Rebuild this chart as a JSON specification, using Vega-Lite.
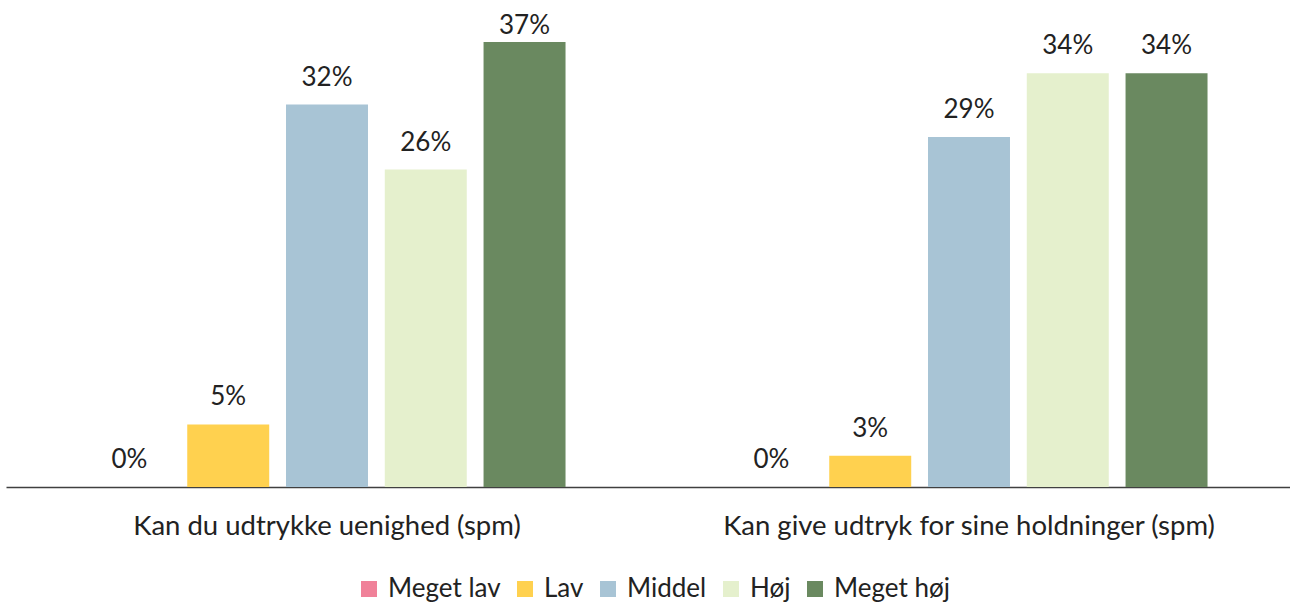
{
  "$schema": "https://vega.github.io/schema/vega-lite/v6.json",
  "autosize": "none",
  "width": 1284,
  "height": 481,
  "padding": {"left": 6, "top": 6, "right": 0, "bottom": 117},
  "config": {"view": {"stroke": null}, "font": "Lato"},
  "data": {"values": [
    {"q": "Kan du udtrykke uenighed (spm)", "s": "Meget lav", "v": 0},
    {"q": "Kan du udtrykke uenighed (spm)", "s": "Lav", "v": 0.052},
    {"q": "Kan du udtrykke uenighed (spm)", "s": "Middel", "v": 0.318},
    {"q": "Kan du udtrykke uenighed (spm)", "s": "Høj", "v": 0.264},
    {"q": "Kan du udtrykke uenighed (spm)", "s": "Meget høj", "v": 0.37},
    {"q": "Kan give udtryk for sine holdninger (spm)", "s": "Meget lav", "v": 0},
    {"q": "Kan give udtryk for sine holdninger (spm)", "s": "Lav", "v": 0.026},
    {"q": "Kan give udtryk for sine holdninger (spm)", "s": "Middel", "v": 0.291},
    {"q": "Kan give udtryk for sine holdninger (spm)", "s": "Høj", "v": 0.344},
    {"q": "Kan give udtryk for sine holdninger (spm)", "s": "Meget høj", "v": 0.344}
  ]},
  "encoding": {
    "x": {"field": "q", "type": "nominal", "sort": null,
      "scale": {"paddingInner": 0, "paddingOuter": 0},
      "axis": {"title": null, "labelAngle": 0, "ticks": false, "domainColor": "#404040", "domainWidth": 1.5,
        "labelFontSize": 27.5, "labelColor": "#222222", "labelPadding": 25, "labelLimit": 0, "labelFont": "Lato"}},
    "xOffset": {"field": "s", "type": "nominal", "sort": ["Meget lav", "Lav", "Middel", "Høj", "Meget høj"],
      "scale": {"paddingInner": 0.17, "paddingOuter": 0.835}},
    "y": {"field": "v", "type": "quantitative", "scale": {"domain": [0, 0.4]}, "axis": null}
  },
  "layer": [
    {"mark": {"type": "bar"},
      "encoding": {
        "color": {"field": "s", "type": "nominal", "sort": ["Meget lav", "Lav", "Middel", "Høj", "Meget høj"],
          "scale": {"domain": ["Meget lav", "Lav", "Middel", "Høj", "Meget høj"],
            "range": ["#F08199", "#FFD14F", "#A8C4D5", "#E5F0CD", "#6A8960"]},
          "legend": {"title": null, "orient": "none", "legendX": 350, "legendY": 570, "direction": "horizontal", "symbolType": "square",
            "symbolSize": 256, "symbolStrokeWidth": 0, "labelFontSize": 26, "labelColor": "#222222", "labelFont": "Lato",
            "columnPadding": 11, "labelOffset": 6, "padding": 0, "labelLimit": 0}}
      }},
    {"transform": [{"filter": "datum.v < 0.36"}],
      "mark": {"type": "text", "dy": -27, "fontSize": 26, "color": "#222222", "font": "Lato"},
      "encoding": {"text": {"field": "v", "type": "quantitative", "format": ".0%"}}},
    {"transform": [{"filter": "datum.v >= 0.36"}],
      "mark": {"type": "text", "dy": -16, "fontSize": 26, "color": "#222222", "font": "Lato"},
      "encoding": {"text": {"field": "v", "type": "quantitative", "format": ".0%"}}}
  ]
}
